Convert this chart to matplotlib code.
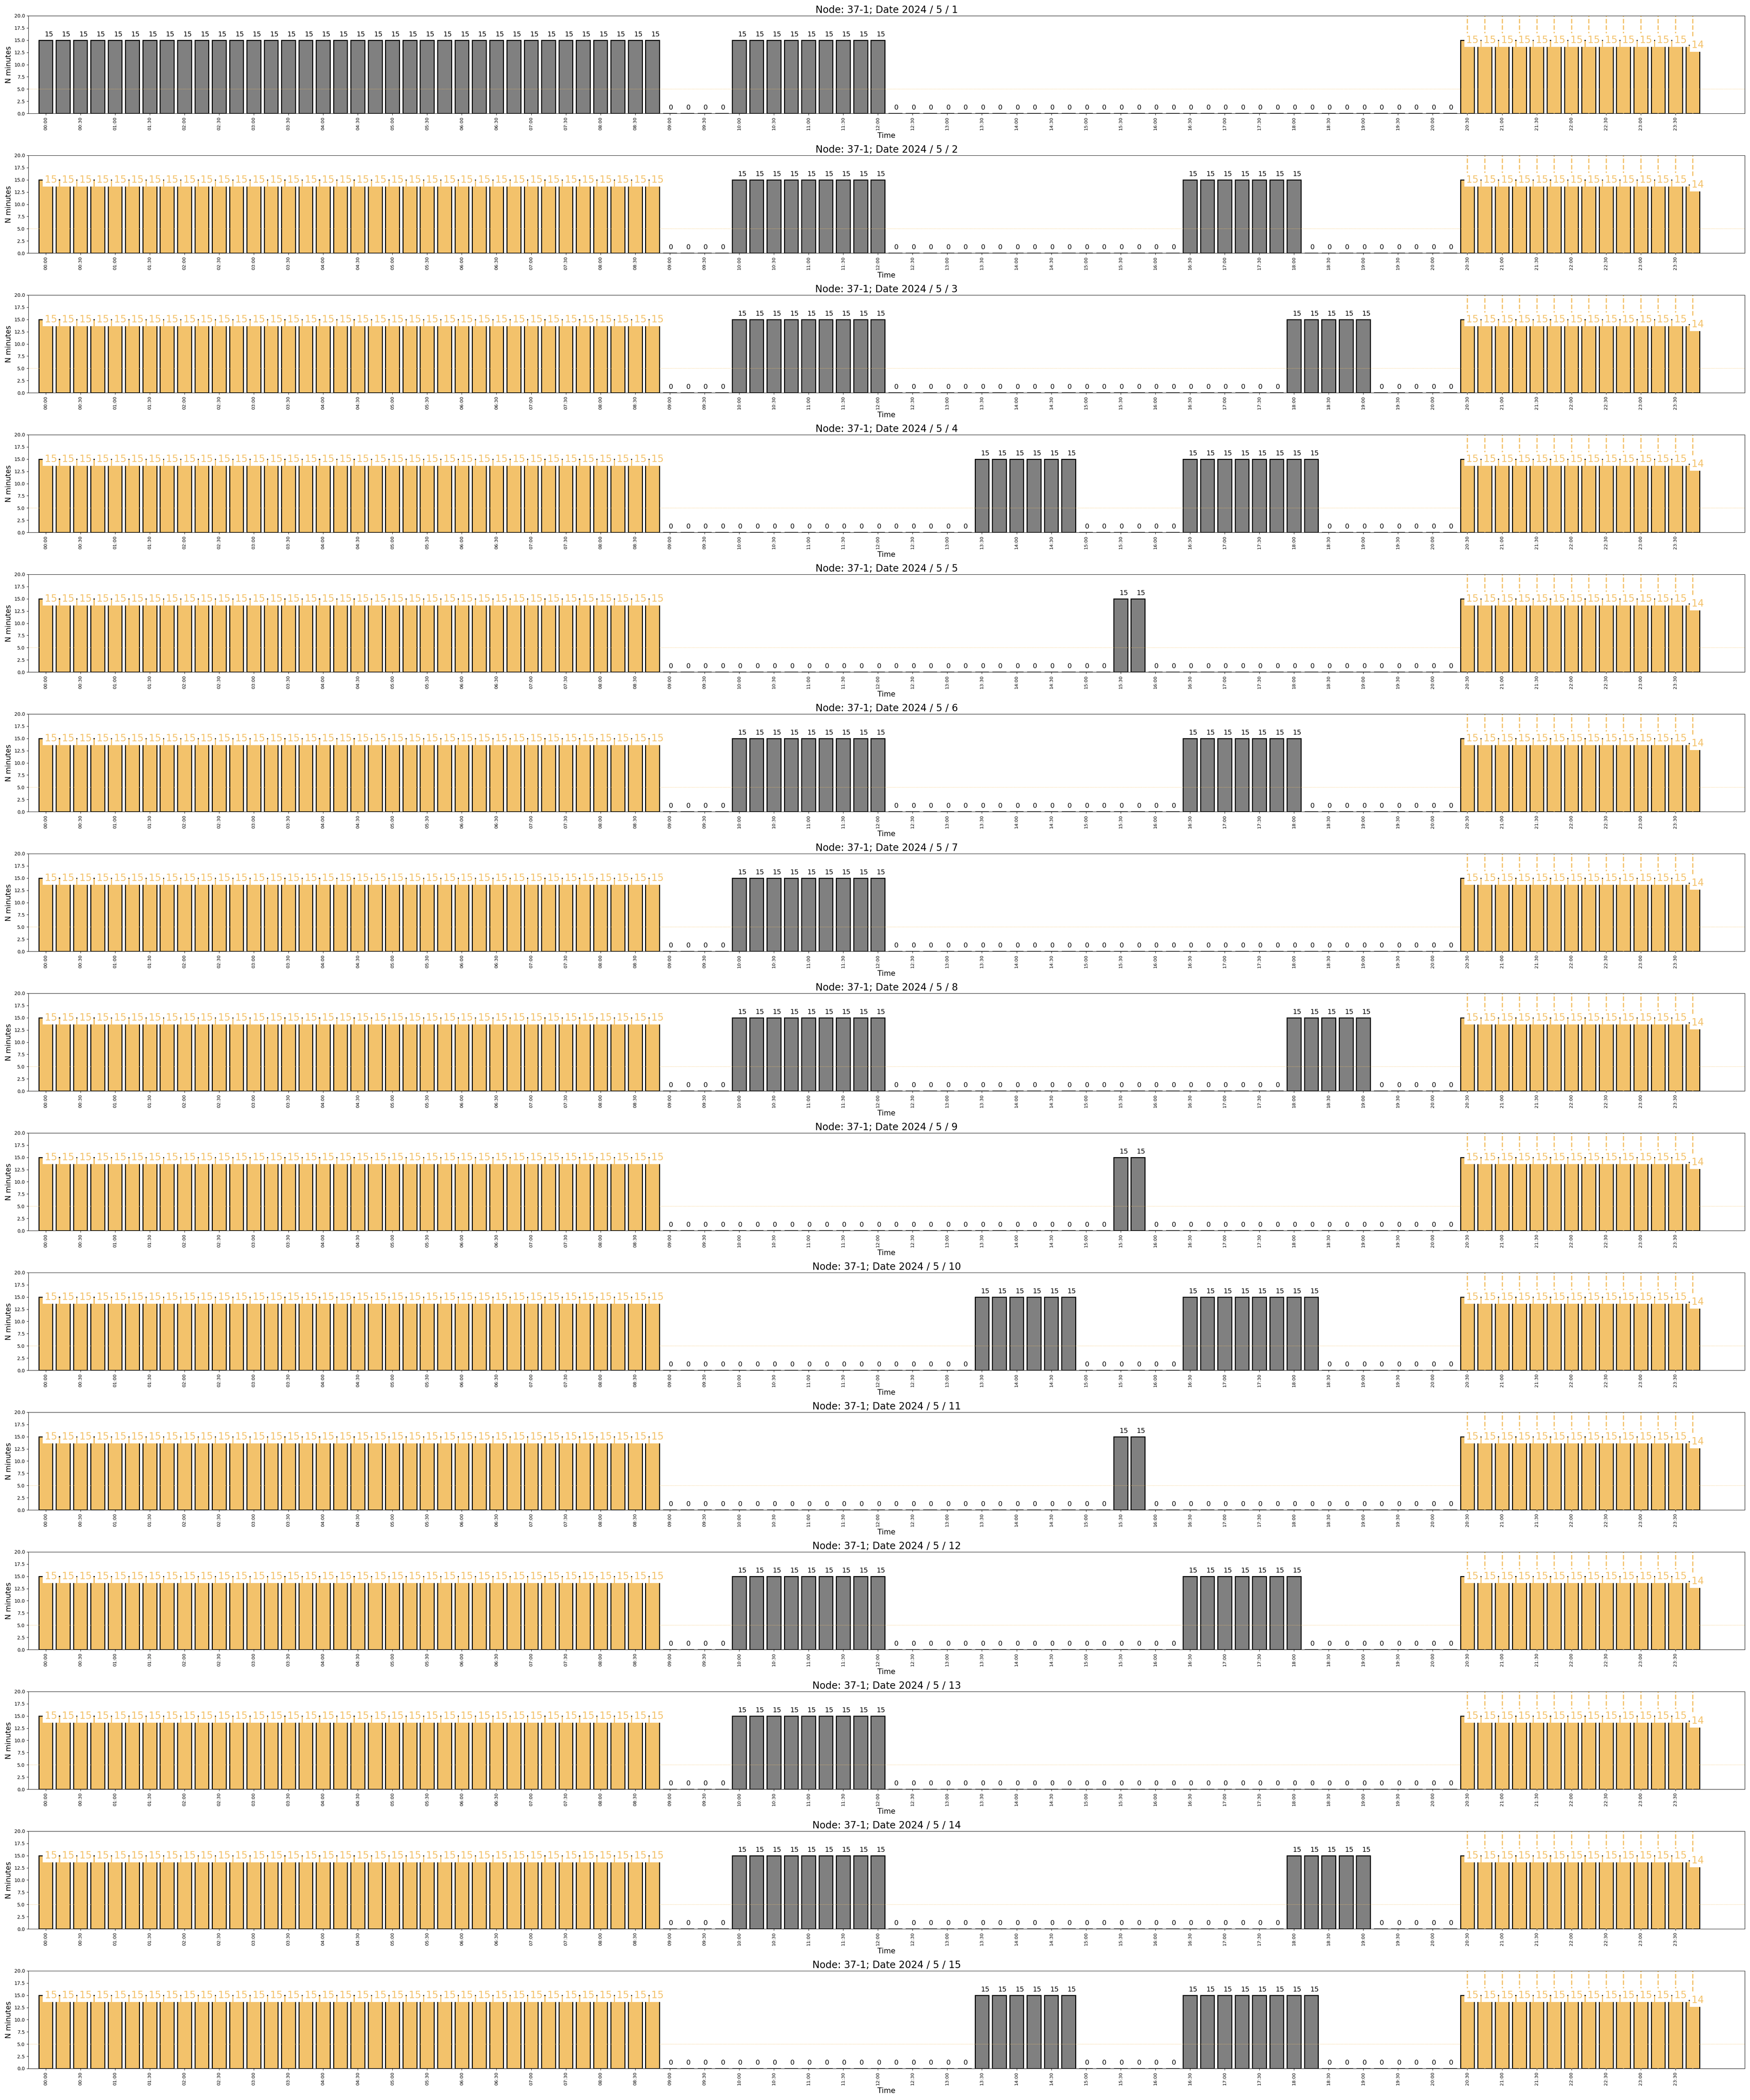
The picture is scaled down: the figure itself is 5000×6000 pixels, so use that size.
import numpy as np
import matplotlib
matplotlib.use("Agg")
import matplotlib.pyplot as plt

# ---------------------------------------------------------------------------
# Data
# ---------------------------------------------------------------------------

node = "37-1"
year, month = 2024, 5
days = list(range(1, 16))

# 15-minute slots of one day
slots = [f"{h:02d}:{m:02d}" for h in range(24) for m in (0, 15, 30, 45)]

# minutes per slot, written as (value, number of consecutive slots)
day_runs = [
    [(15, 36), (0, 4), (15, 9), (0, 33), (15, 13), (14, 1)],                         # 5/1
    [(15, 36), (0, 4), (15, 9), (0, 17), (15, 7), (0, 9), (15, 13), (14, 1)],       # 5/2
    [(15, 36), (0, 4), (15, 9), (0, 23), (15, 5), (0, 5), (15, 13), (14, 1)],       # 5/3
    [(15, 36), (0, 18), (15, 6), (0, 6), (15, 8), (0, 8), (15, 13), (14, 1)],       # 5/4
    [(15, 36), (0, 26), (15, 2), (0, 18), (15, 13), (14, 1)],                         # 5/5
    [(15, 36), (0, 4), (15, 9), (0, 17), (15, 7), (0, 9), (15, 13), (14, 1)],       # 5/6
    [(15, 36), (0, 4), (15, 9), (0, 33), (15, 13), (14, 1)],                         # 5/7
    [(15, 36), (0, 4), (15, 9), (0, 23), (15, 5), (0, 5), (15, 13), (14, 1)],       # 5/8
    [(15, 36), (0, 26), (15, 2), (0, 18), (15, 13), (14, 1)],                         # 5/9
    [(15, 36), (0, 18), (15, 6), (0, 6), (15, 8), (0, 8), (15, 13), (14, 1)],       # 5/10
    [(15, 36), (0, 26), (15, 2), (0, 18), (15, 13), (14, 1)],                         # 5/11
    [(15, 36), (0, 4), (15, 9), (0, 17), (15, 7), (0, 9), (15, 13), (14, 1)],       # 5/12
    [(15, 36), (0, 4), (15, 9), (0, 33), (15, 13), (14, 1)],                         # 5/13
    [(15, 36), (0, 4), (15, 9), (0, 23), (15, 5), (0, 5), (15, 13), (14, 1)],       # 5/14
    [(15, 36), (0, 18), (15, 6), (0, 6), (15, 8), (0, 8), (15, 13), (14, 1)],       # 5/15
]

night_start = "20:30"   # evening slots, marked with dashed lines
night_end = "09:00"     # morning slots carried over from the previous night
threshold = 5

grey = "#808080"
orange = "#F3C26B"

# ---------------------------------------------------------------------------
# Plot
# ---------------------------------------------------------------------------

fig, axes = plt.subplots(len(days), 1, figsize=(50, 60))
fig.subplots_adjust(left=0.0162, right=0.997, top=0.9925, bottom=0.015,
                    hspace=0.43)

x = np.arange(len(slots))
i_evening = slots.index(night_start)
i_morning = slots.index(night_end)

for ax, day, runs in zip(axes, days, day_runs):
    vals = np.repeat([v for v, n in runs], [n for v, n in runs])
    evening = x >= i_evening
    morning = (x < i_morning) & (day != days[0])
    is_night = evening | morning
    colors = np.where(is_night, orange, grey)

    ax.bar(x, vals, width=0.8, color=colors, edgecolor="black", linewidth=2)
    for i in x[evening]:
        ax.axvline(i, color=orange, linestyle="--", linewidth=2.5)
    ax.axhline(threshold, color=orange, linestyle=":", linewidth=1)

    for i, v in zip(x, vals):
        if is_night[i]:
            ax.text(i - 0.06, v, str(v), ha="left", va="center",
                    fontsize=20, color=orange,
                    bbox=dict(facecolor="white", edgecolor="none"))
        else:
            ax.text(i - 0.06, v + 0.5, str(v), ha="left", va="bottom",
                    fontsize=14)

    ax.set_xlim(-1, 98)
    ax.set_ylim(0, 20)
    ax.set_yticks(np.arange(0, 20.1, 2.5))
    ax.set_xticks(x[::2])
    ax.set_xticklabels(slots[::2], rotation=90, fontsize=9.5)
    ax.tick_params(axis="y", labelsize=10)
    ax.set_xlabel("Time", fontsize=15)
    ax.set_ylabel("N minutes", fontsize=15)
    ax.set_title(f"Node: {node}; Date {year} / {month} / {day}", fontsize=20)

fig.savefig("out.png", dpi=100)
plt.close(fig)
